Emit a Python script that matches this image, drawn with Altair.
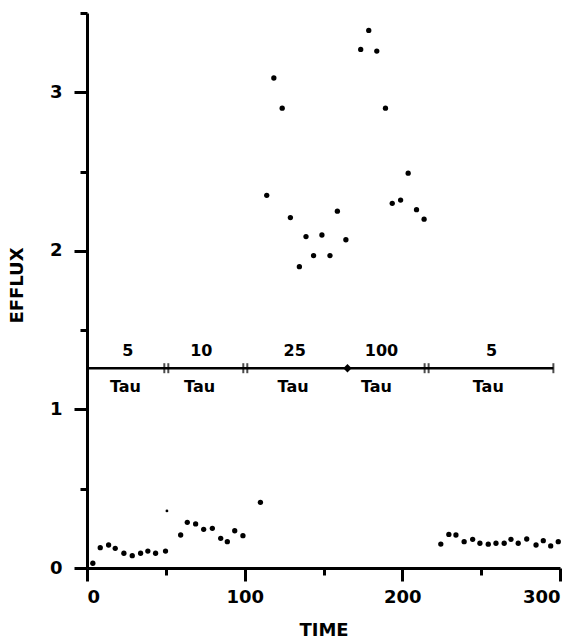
import altair as alt
import pandas as pd

# ---- data ----
time = [3.7, 8.4, 13.7, 17.9, 23.4, 28.7, 34.0, 38.6, 43.5, 49.8,
        59.4, 63.6, 68.9, 74.0, 79.5, 84.8, 89.0, 93.7, 98.9, 110.0,
        114.0, 118.5, 123.8, 129.0, 134.7, 138.9, 143.7, 149.0, 154.1, 158.8, 164.2,
        173.6, 178.7, 183.8, 189.3, 193.6, 198.9, 203.7, 209.0, 213.8,
        224.4, 229.5, 234.0, 239.2, 244.6, 249.2, 254.5, 259.4, 264.6, 268.9,
        273.5, 278.9, 284.8, 289.4, 294.1, 298.9]
efflux = [0.03, 0.128, 0.145, 0.124, 0.093, 0.078, 0.093, 0.107, 0.093, 0.107,
          0.208, 0.288, 0.278, 0.244, 0.25, 0.187, 0.166, 0.235, 0.204, 0.414,
          2.35, 3.09, 2.90, 2.21, 1.90, 2.09, 1.97, 2.10, 1.97, 2.25, 2.07,
          3.27, 3.39, 3.26, 2.90, 2.30, 2.32, 2.49, 2.26, 2.20,
          0.151, 0.212, 0.208, 0.166, 0.181, 0.156, 0.150, 0.156, 0.156, 0.181,
          0.156, 0.183, 0.145, 0.172, 0.139, 0.166]

small_time = [50.7]
small_efflux = [0.36]

# protocol bracket (Tau segments)
bracket_level = 1.26
bracket_start = 0
bracket_end = 295.8
break_times = [50.3, 100.4, 215.4]
junction_time = [165.2]
seg_labels = ["5", "10", "25", "100", "5"]
seg_label_time = [25.9, 72.5, 131.7, 186.8, 256.6]
tau_label_time = [24.4, 71.4, 130.7, 183.6, 254.5]

x_ticks = [0, 50, 100, 150, 200, 250, 300]
y_ticks = [0, 0.5, 1, 1.5, 2, 2.5, 3, 3.5]

FONT = "DejaVu Sans"

points = pd.DataFrame({"TIME": time, "EFFLUX": efflux})
small = pd.DataFrame({"TIME": small_time, "EFFLUX": small_efflux})
br_line = pd.DataFrame({"t0": [bracket_start], "t1": [bracket_end], "lvl": [bracket_level]})
br_breaks = pd.DataFrame({"t": break_times, "lvl": [bracket_level] * len(break_times)})
br_end = pd.DataFrame({"t": [bracket_end], "lvl": [bracket_level]})
br_junc = pd.DataFrame({"t": junction_time, "lvl": [bracket_level] * len(junction_time)})
nums = pd.DataFrame({"t": seg_label_time, "lab": seg_labels, "lvl": [bracket_level] * 5})
taus = pd.DataFrame({"t": tau_label_time, "lab": ["Tau"] * 5, "lvl": [bracket_level] * 5})

xscale = alt.Scale(domain=[0, 300], nice=False, zero=False)
yscale = alt.Scale(domain=[0, 3.5], nice=False)

x_axis = alt.Axis(
    values=x_ticks,
    labelExpr="datum.value % 100 === 0 ? format(datum.value, 'd') : ''",
    tickSize={"condition": {"test": "datum.value % 100 === 0", "value": 13}, "value": 7},
    labelPadding=7,
    title="TIME",
    titleY=62,
    titleBaseline="middle",
)
y_axis = alt.Axis(
    values=y_ticks,
    labelExpr="datum.value % 1 === 0 ? format(datum.value, 'd') : ''",
    tickSize={"condition": {"test": "datum.value % 1 === 0", "value": 13}, "value": 7},
    labelPadding=12,
    title="EFFLUX",
    titleX=-70,
    titleY=272,
    titleAngle=270,
    titleAlign="center",
    titleBaseline="middle",
)

dots = alt.Chart(points).mark_circle(size=28, color="black", opacity=1).encode(
    x=alt.X("TIME:Q", scale=xscale, axis=x_axis),
    y=alt.Y("EFFLUX:Q", scale=yscale, axis=y_axis),
)
small_dots = alt.Chart(small).mark_circle(size=8, color="black", opacity=1).encode(
    x=alt.X("TIME:Q", scale=xscale),
    y=alt.Y("EFFLUX:Q", scale=yscale),
)

line = alt.Chart(br_line).mark_rule(color="black", strokeWidth=2.5).encode(
    x=alt.X("t0:Q", scale=xscale), x2="t1:Q", y=alt.Y("lvl:Q", scale=yscale)
)
breaks_a = alt.Chart(br_breaks).mark_tick(orient="vertical", color="black", thickness=2, size=10).encode(
    x=alt.X("t:Q", scale=xscale), y=alt.Y("lvl:Q", scale=yscale), xOffset=alt.value(-2)
)
breaks_b = alt.Chart(br_breaks).mark_tick(orient="vertical", color="black", thickness=2, size=10).encode(
    x=alt.X("t:Q", scale=xscale), y=alt.Y("lvl:Q", scale=yscale), xOffset=alt.value(2)
)
end_tick = alt.Chart(br_end).mark_tick(orient="vertical", color="black", thickness=2, size=10).encode(
    x=alt.X("t:Q", scale=xscale), y=alt.Y("lvl:Q", scale=yscale)
)
junc = alt.Chart(br_junc).mark_point(shape="diamond", filled=True, size=70, color="black", opacity=1).encode(
    x=alt.X("t:Q", scale=xscale), y=alt.Y("lvl:Q", scale=yscale)
)
num_text = alt.Chart(nums).mark_text(font=FONT, fontWeight="bold", fontSize=16, dy=-17, baseline="middle").encode(
    x=alt.X("t:Q", scale=xscale), y=alt.Y("lvl:Q", scale=yscale), text="lab:N"
)
tau_text = alt.Chart(taus).mark_text(font=FONT, fontWeight="bold", fontSize=16, dy=19, baseline="middle").encode(
    x=alt.X("t:Q", scale=xscale), y=alt.Y("lvl:Q", scale=yscale), text="lab:N"
)

chart = alt.layer(
    dots, small_dots, line, breaks_a, breaks_b, end_tick, junc, num_text, tau_text
).properties(
    width=473, height=555,
    autosize=alt.AutoSizeParams(type="none"),
    padding={"left": 87, "top": 13, "right": 22, "bottom": 75},
    background="white",
).configure_view(stroke=None).configure_axis(
    grid=False,
    domainColor="black", domainWidth=3,
    tickColor="black", tickWidth=3,
    labelFont=FONT, labelFontWeight="bold", labelFontSize=18, labelColor="black",
    titleFont=FONT, titleFontWeight="bold", titleFontSize=18, titleColor="black",
)

chart.save("out.html", embed_options={"renderer": "svg", "actions": False})
